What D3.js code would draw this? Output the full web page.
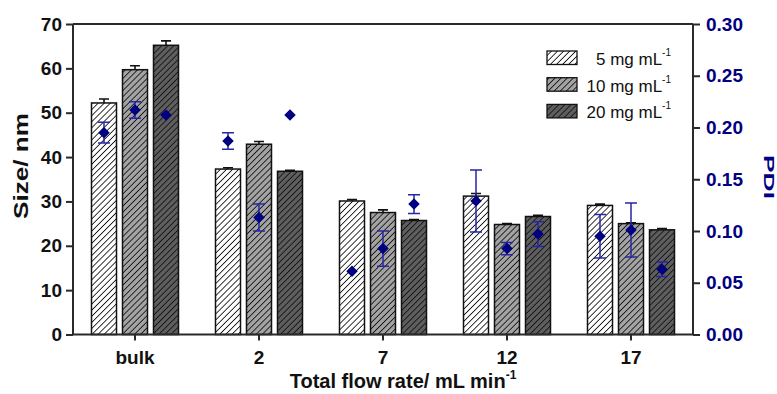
<!DOCTYPE html>
<html lang="en">
<head>
<meta charset="UTF-8">
<title>Size and PDI vs flow rate</title>
<script src="https://cdn.jsdelivr.net/npm/d3@7"></script>
<style>
  body { margin: 0; background: #fff; }
  text { font-family: "Liberation Sans", Arial, sans-serif; }
</style>
</head>
<body>
<div id="chart"></div>
<script>
// data
const categories = ["bulk", "2", "7", "12", "17"];
const series = ["5 mg mL", "10 mg mL", "20 mg mL"];

// particle size (nm), one array per concentration
const size5  = [52.2, 37.3, 30.1, 31.2, 29.1];
const size10 = [59.7, 42.9, 27.5, 24.8, 25.0];
const size20 = [65.2, 36.8, 25.7, 26.6, 23.6];
const sizeErr5  = [0.9, 0.3, 0.3, 0.6, 0.3];
const sizeErr10 = [0.9, 0.6, 0.6, 0.2, 0.2];
const sizeErr20 = [1.0, 0.2, 0.2, 0.3, 0.3];

// PDI, one array per concentration
const pdi5  = [0.195, 0.187, 0.061, 0.129, 0.095];
const pdi10 = [0.217, 0.113, 0.083, 0.083, 0.101];
const pdi20 = [0.212, 0.212, 0.126, 0.097, 0.063];
const pdiErr5  = [0.010, 0.008, 0, 0.030, 0.021];
const pdiErr10 = [0.008, 0.013, 0.017, 0.006, 0.026];
const pdiErr20 = [0, 0, 0.009, 0.012, 0.007];

const sizeTicks = [0, 10, 20, 30, 40, 50, 60, 70];
const pdiTicks = [0, 0.05, 0.10, 0.15, 0.20, 0.25, 0.30];

const sizes = [size5, size10, size20];
const sizeErrs = [sizeErr5, sizeErr10, sizeErr20];
const pdis = [pdi5, pdi10, pdi20];
const pdiErrs = [pdiErr5, pdiErr10, pdiErr20];
const fills = ["#ffffff", "#a3a3a3", "#5e5e5e"];
const navy = "#000080";
const errBlue = "#2626a6";

let width = 777, height = 394
let pLeft = 73, pRight = 693, pTop = 24, pBottom = 334.5

let svg = d3.select("#chart").append("svg")
    .attr("width", width)
    .attr("height", height)

let x0 = d3.scaleBand().domain(categories).range([pLeft, pRight])
let x1 = d3.scaleBand().domain(series).range([-43.5, 43.5]).paddingInner(0.1935)
let y = d3.scaleLinear().domain([0, 70]).range([pBottom, pTop])
let y2 = d3.scaleLinear().domain([0, 0.30]).range([pBottom, pTop])

// hatch patterns
let defs = svg.append("defs")
fills.forEach(function (f, i) {
    let p = defs.append("pattern")
        .attr("id", "hatch" + i)
        .attr("patternUnits", "userSpaceOnUse")
        .attr("width", 4.3).attr("height", 4.3)
        .attr("patternTransform", "rotate(45)")
    p.append("rect").attr("width", 4.3).attr("height", 4.3).attr("fill", f)
    p.append("line").attr("x1", 0).attr("y1", 0).attr("x2", 0).attr("y2", 4.3)
        .attr("stroke", "#111").attr("stroke-width", 1.7)
})

// bars
let barData = []
categories.forEach(function (c, ci) {
    series.forEach(function (s, si) {
        barData.push({cat: c, ser: s, si: si, v: sizes[si][ci], e: sizeErrs[si][ci],
            p: pdis[si][ci], pe: pdiErrs[si][ci]})
    })
})

let barX = d => x0(d.cat) + x0.bandwidth() / 2 + x1(d.ser)
let barC = d => barX(d) + x1.bandwidth() / 2

// size error bars (upper only)
svg.append("g").selectAll("path").data(barData).enter().append("path")
    .attr("d", d => "M" + barC(d) + "," + y(d.v) + "V" + y(d.v + d.e)
        + "M" + (barC(d) - 5) + "," + y(d.v + d.e) + "H" + (barC(d) + 5))
    .attr("stroke", "#111").attr("stroke-width", 1.6).attr("fill", "none")

svg.append("g").selectAll("rect").data(barData).enter().append("rect")
    .attr("x", barX)
    .attr("width", x1.bandwidth())
    .attr("y", d => y(d.v))
    .attr("height", d => y(0) - y(d.v))
    .attr("fill", d => "url(#hatch" + d.si + ")")
    .attr("stroke", "#111").attr("stroke-width", 1.5)

// axes
let axisCol = "#2a2a2a"
let gl = svg.append("g").attr("transform", "translate(" + pLeft + ",0)")
    .call(d3.axisLeft(y).tickValues(sizeTicks).tickSize(7).tickPadding(4))
gl.selectAll("text").attr("font-size", 19).attr("font-weight", "bold").attr("fill", "#111")
    .style("font-family", "'Liberation Sans', Arial")

let gr = svg.append("g").attr("transform", "translate(" + pRight + ",0)")
    .call(d3.axisRight(y2).tickValues(pdiTicks).tickFormat(d3.format(".2f")).tickSize(7).tickPadding(6))
gr.selectAll("text").attr("font-size", 19).attr("font-weight", "bold").attr("fill", navy)
    .style("font-family", "'Liberation Sans', Arial")

let gb = svg.append("g").attr("transform", "translate(0," + pBottom + ")")
    .call(d3.axisBottom(x0).tickSize(6).tickPadding(10))
gb.selectAll("text").attr("font-size", 19).attr("font-weight", "bold").attr("fill", "#111")
    .style("font-family", "'Liberation Sans', Arial")

svg.selectAll(".domain, .tick line").attr("stroke", axisCol).attr("stroke-width", 2)
gb.select(".domain").attr("d", "M" + pLeft + ",0H" + pRight)
gl.select(".domain").attr("d", "M0," + pTop + "V" + pBottom)
gr.select(".domain").attr("d", "M0," + pTop + "V" + pBottom)

// top frame line
svg.append("line").attr("x1", pLeft).attr("x2", pRight).attr("y1", pTop).attr("y2", pTop)
    .attr("stroke", axisCol).attr("stroke-width", 2)

// PDI error bars and diamonds
let pdiG = svg.append("g")
pdiG.selectAll("path.err").data(barData.filter(d => d.pe > 0)).enter().append("path")
    .attr("class", "err")
    .attr("d", d => "M" + barC(d) + "," + y2(d.p - d.pe) + "V" + y2(d.p + d.pe)
        + "M" + (barC(d) - 6) + "," + y2(d.p + d.pe) + "H" + (barC(d) + 6)
        + "M" + (barC(d) - 6) + "," + y2(d.p - d.pe) + "H" + (barC(d) + 6))
    .attr("stroke", errBlue).attr("stroke-width", 1.5).attr("fill", "none")

pdiG.selectAll("path.pt").data(barData).enter().append("path")
    .attr("class", "pt")
    .attr("d", d3.symbol(d3.symbolSquare, 66))
    .attr("transform", d => "translate(" + barC(d) + "," + y2(d.p) + ") rotate(45)")
    .attr("fill", navy)

// axis titles
svg.append("text")
    .attr("transform", "translate(28,166) rotate(-90)")
    .attr("text-anchor", "middle")
    .attr("font-size", 21).attr("font-weight", "bold").attr("fill", "#111")
    .attr("textLength", 106).attr("lengthAdjust", "spacingAndGlyphs")
    .text("Size/ nm")

svg.append("text")
    .attr("transform", "translate(764,177) rotate(90)")
    .attr("text-anchor", "middle")
    .attr("font-size", 15).attr("font-weight", "bold").attr("fill", navy)
    .attr("textLength", 44).attr("lengthAdjust", "spacingAndGlyphs")
    .text("PDI")

let xt = svg.append("text")
    .attr("x", 403).attr("y", 388)
    .attr("text-anchor", "middle")
    .attr("font-size", 20).attr("font-weight", "bold").attr("fill", "#111")
xt.append("tspan").text("Total flow rate/ mL min")
xt.append("tspan").attr("font-size", 12).attr("dy", -9).text("-1")

// legend
let lg = svg.append("g")
series.forEach(function (s, i) {
    let yy = 51 + i * 26.7
    lg.append("rect").attr("x", 547).attr("y", yy).attr("width", 30).attr("height", 13.5)
        .attr("fill", "url(#hatch" + i + ")").attr("stroke", "#111").attr("stroke-width", 1.3)
    let t = lg.append("text").attr("x", 671).attr("y", yy + 14)
        .attr("text-anchor", "end").attr("font-size", 17).attr("fill", "#111")
    t.append("tspan").text(s)
    t.append("tspan").attr("font-size", 10).attr("dy", -9).text("-1")
})
</script>
</body>
</html>
